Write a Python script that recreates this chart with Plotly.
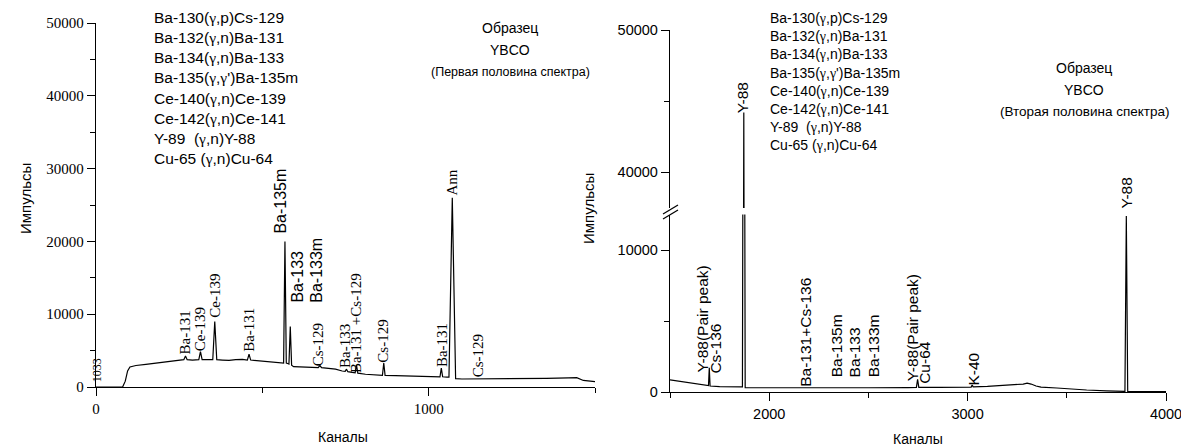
import plotly.graph_objects as go

W, H = 1189, 448
OFF = 8  # page body margin of the html page

# ---------------- data ----------------
# Left panel: first half of the spectrum (channel, counts) polyline vertices
left_channels = [0, 80, 88, 95, 102, 120, 150, 180, 210, 240, 258,
                 264, 269, 274, 290, 309, 314, 319, 335, 351, 357, 363,
                 380, 400, 420, 440, 455, 460, 465, 490, 520, 550, 562,
                 564, 568, 572, 578, 580, 584, 588, 594, 620, 650,
                 668, 673, 678, 690, 720, 740, 749, 753, 757, 770,
                 779, 783, 787, 810, 840, 861, 865, 869, 900, 950, 1000,
                 1030, 1034, 1038, 1042, 1055, 1061, 1071, 1081, 1100,
                 1148, 1200, 1300, 1354, 1420, 1445, 1465, 1500]
left_counts = [0, 0, 800, 2200, 2750, 2950, 3100, 3250, 3400, 3550, 3700,
               3750, 4250, 3750, 3700, 3750, 4850, 3750, 3750, 3750, 9000, 3750,
               3700, 3650, 3750, 3800, 3700, 4500, 3700, 3600, 3500, 3350, 3300,
               3300, 20000, 3300, 3200, 3150, 8300, 3000, 2800, 2800, 2700,
               2650, 2950, 2650, 2600, 2450, 2200, 2150, 2450, 2100, 2000,
               1950, 3000, 1900, 1750, 1650, 1600, 3300, 1600, 1550, 1500, 1450,
               1400, 1400, 2600, 1400, 1350, 1350, 26000, 1150, 1100,
               1100, 1100, 1150, 1190, 1250, 1280, 900, 730]

# Right panel: second half of the spectrum
right_channels = [1500, 1550, 1600, 1650, 1690, 1694, 1698, 1702, 1750, 1800,
                  1865, 1872, 1879, 1950, 2100, 2183, 2300, 2500, 2700,
                  2742, 2748, 2754, 2850, 2950, 3018, 3023, 3028, 3100,
                  3200, 3280, 3300, 3320, 3345, 3370, 3450, 3500, 3600,
                  3700, 3780, 3793, 3800, 3807, 3900, 4000]
right_counts = [850, 750, 650, 550, 470, 460, 1700, 420, 380, 370,
                360, 44200, 300, 300, 290, 310, 300, 300, 310,
                320, 900, 320, 330, 340, 350, 500, 360, 400,
                470, 560, 620, 560, 420, 340, 280, 220, 140,
                80, 40, 40, 12400, 30, 25, 20]

# Peak labels, left panel (text, channel, counts at label start)
left_label_text = ["1033", "Ba-131", "Ce-139", "Ce-139", "Ba-131", "Ba-135m",
                   "Ba-133", "Ba-133m", "Cs-129", "Ba-133", "Ba-131 +Cs-129",
                   "Cs-129", "Ba-131", "Ann", "Cs-129"]
left_label_ch = [3, 266, 311, 357, 459, 556, 603, 662, 670, 748, 782,
                 860, 1040, 1071, 1147]
left_label_counts = [500, 4400, 4850, 9350, 4650, 21000, 11400, 11400, 2750,
                     2450, 1800, 3150, 2600, 26200, 1200]

# Peak labels, right panel (lower axis)
right_label_text = ["Y-88(Pair peak)", "Cs-136", "Ba-131+Cs-136", "Ba-135m",
                    "Ba-133", "Ba-133m", "Y-88(Pair peak)", "Cu-64", "K-40",
                    "Y-88"]
right_label_ch = [1663, 1730, 2183, 2338, 2432, 2525, 2719, 2786, 3028, 3799]
right_label_counts = [1300, 1200, 300, 950, 950, 950, 720, 480, 360, 12400]
# label on the upper (broken) axis segment
right_upper_label_text = ["Y-88"]
right_upper_label_ch = [1867]
right_upper_label_counts = [44100]

reactions = ["Ba-130(γ,p)Cs-129", "Ba-132(γ,n)Ba-131", "Ba-134(γ,n)Ba-133",
             "Ba-135(γ,γ')Ba-135m", "Ce-140(γ,n)Ce-139", "Ce-142(γ,n)Ce-141",
             "Y-89  (γ,n)Y-88", "Cu-65 (γ,n)Cu-64"]

left_title_lines = ["Образец", "YBCO", "(Первая половина спектра)"]
right_title_lines = ["Образец", "YBCO", "(Вторая половина спектра)"]

left_x_ticks = [0, 1000]
left_y_ticks = [0, 10000, 20000, 30000, 40000, 50000]
right_x_ticks = [2000, 3000, 4000]
right_low_y_ticks = [0, 10000]
right_up_y_ticks = [40000, 50000]

# ---------------- styling helpers ----------------
SANS = "Liberation Sans, Arial, sans-serif"
SERIF = "Liberation Serif, Times New Roman, serif"
left_sans_index = {5, 6, 7}


def px(x):
    return (x - OFF) / W


def py(y):
    return 1 - (y - OFF) / H


def axis_common(**kw):
    d = dict(showline=True, linecolor="black", linewidth=1.3, ticks="outside",
             tickcolor="black", tickwidth=1.3, ticklen=8, showgrid=False,
             zeroline=False, tickmode="array", tickformat="d", automargin=False)
    d.update(kw)
    return d


fig = go.Figure()
line_style = dict(color="black", width=1.2)
fig.add_trace(go.Scatter(x=left_channels, y=left_counts, mode="lines",
                         line=line_style, xaxis="x", yaxis="y",
                         showlegend=False, hoverinfo="skip"))
fig.add_trace(go.Scatter(x=right_channels, y=right_counts, mode="lines",
                         line=line_style, xaxis="x2", yaxis="y2",
                         showlegend=False, hoverinfo="skip"))
fig.add_trace(go.Scatter(x=right_channels, y=right_counts, mode="lines",
                         line=line_style, xaxis="x2", yaxis="y3",
                         showlegend=False, hoverinfo="skip"))

annotations = []


def gamma(s):
    return s.replace("γ", "<span style='font-family:Liberation Serif'>γ</span>")


# peak labels
for i, (t, c, v) in enumerate(zip(left_label_text, left_label_ch, left_label_counts)):
    sans = i in left_sans_index
    size = 16 if sans else 15
    if i == 0:
        size = 12
    annotations.append(dict(text=t, x=c, y=v, xref="x", yref="y", showarrow=False,
                            textangle=-90, xanchor="center", yanchor="bottom",
                            borderpad=0,
                            font=dict(family=SANS if sans else SERIF, size=size,
                                      color="black")))
for t, c, v in zip(right_label_text, right_label_ch, right_label_counts):
    annotations.append(dict(text=t, x=c, y=v, xref="x2", yref="y2", showarrow=False,
                            textangle=-90, xanchor="center", yanchor="bottom",
                            borderpad=0, yshift=6 if v > 12000 else 0,
                            font=dict(family=SANS, size=15.5, color="black")))
for t, c, v in zip(right_upper_label_text, right_upper_label_ch, right_upper_label_counts):
    annotations.append(dict(text=t, x=c, y=v, xref="x2", yref="y3", showarrow=False,
                            textangle=-90, xanchor="center", yanchor="bottom",
                            borderpad=0,
                            font=dict(family=SANS, size=15.5, color="black")))

# reaction lists
annotations.append(dict(text="<br>".join(gamma(r) for r in reactions),
                        x=px(152), y=py(7), xref="paper", yref="paper",
                        xanchor="left", yanchor="top", align="left", showarrow=False,
                        font=dict(family=SANS, size=15.5, color="black")))
annotations.append(dict(text="<br>".join(gamma(r) for r in reactions),
                        x=px(768), y=py(8), xref="paper", yref="paper",
                        xanchor="left", yanchor="top", align="left", showarrow=False,
                        font=dict(family=SANS, size=14, color="black")))

# sample titles
for t, yy, fs in zip(left_title_lines, [28, 50, 72], [14, 14, 12.5]):
    annotations.append(dict(text=t, x=px(510), y=py(yy), xref="paper", yref="paper",
                            xanchor="center", yanchor="middle", showarrow=False,
                            font=dict(family=SANS, size=fs, color="black")))
for t, yy, fs in zip(right_title_lines, [68, 90, 111], [14, 14, 13.5]):
    annotations.append(dict(text=t, x=px(1084), y=py(yy), xref="paper", yref="paper",
                            xanchor="center", yanchor="middle", showarrow=False,
                            font=dict(family=SANS, size=fs, color="black")))

# axis titles
for (xx, yy) in [(25, 199), (588, 209)]:
    annotations.append(dict(text="Импульсы", x=px(xx), y=py(yy), xref="paper",
                            yref="paper", xanchor="center", yanchor="middle",
                            textangle=-90, showarrow=False,
                            font=dict(family=SANS, size=15, color="black")))
for (xx, yy) in [(343, 437), (918, 439)]:
    annotations.append(dict(text="Каналы", x=px(xx), y=py(yy), xref="paper",
                            yref="paper", xanchor="center", yanchor="middle",
                            showarrow=False,
                            font=dict(family=SANS, size=14, color="black")))

# axis break marks on the right y axis
shapes = []
for (x0, y0, x1, y1) in [(663, 214, 678, 205), (663, 219, 678, 210)]:
    shapes.append(dict(type="line", xref="paper", yref="paper",
                       x0=px(x0), y0=py(y0), x1=px(x1), y1=py(y1),
                       line=dict(color="black", width=1.3)))

serif_tick = dict(family=SERIF, size=15, color="black")
sans_tick = dict(family=SANS, size=14.5, color="black")

fig.update_layout(
    width=W, height=H, autosize=False,
    margin=dict(l=0, r=0, t=0, b=0, pad=0, autoexpand=False),
    paper_bgcolor="white", plot_bgcolor="white",
    showlegend=False,
    xaxis=axis_common(domain=[px(96), px(595)], range=[0, 1500], anchor="y",
                      tickvals=left_x_ticks, tickfont=serif_tick,
                      minor=dict(ticks="outside", tickmode="array", tickvals=[500, 1500],
                                 ticklen=5, tickwidth=1.3, tickcolor="black")),
    yaxis=axis_common(domain=[py(387), py(23)], range=[0, 50000], anchor="x",
                      tickvals=left_y_ticks, tickfont=serif_tick,
                      minor=dict(ticks="outside", tickmode="array",
                                 tickvals=[5000, 15000, 25000, 35000, 45000],
                                 ticklen=5, tickwidth=1.3, tickcolor="black")),
    xaxis2=axis_common(domain=[px(670), px(1166)], range=[1500, 4000], anchor="y2",
                       tickvals=right_x_ticks, tickfont=sans_tick,
                       minor=dict(ticks="outside", tickmode="array",
                                  tickvals=[1500, 2500, 3500],
                                  ticklen=5, tickwidth=1.3, tickcolor="black")),
    yaxis2=axis_common(domain=[py(392), py(214.5)], range=[0, 12500], anchor="x2",
                       tickvals=right_low_y_ticks, tickfont=sans_tick,
                       minor=dict(ticks="outside", tickmode="array", tickvals=[5000],
                                  ticklen=5, tickwidth=1.3, tickcolor="black")),
    yaxis3=axis_common(domain=[py(208), py(30)], range=[37500, 50000], anchor="x2",
                       tickvals=right_up_y_ticks, tickfont=sans_tick,
                       minor=dict(ticks="outside", tickmode="array", tickvals=[45000],
                                  ticklen=5, tickwidth=1.3, tickcolor="black")),
    annotations=annotations,
    shapes=shapes,
)

fig.write_html("out.html")
